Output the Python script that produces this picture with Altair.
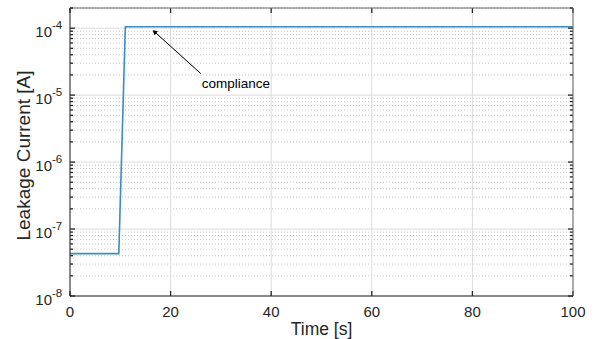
import altair as alt
import pandas as pd

# Leakage current trace (time in s, current in A)
time_s = [0, 9.7, 11.0, 100]
current_a = [4.3e-8, 4.3e-8, 1.05e-4, 1.05e-4]

x_ticks = [0, 20, 40, 60, 80, 100]
x_labels = ["0", "20", "40", "60", "80", "100"]
y_major = [1e-8, 1e-7, 1e-6, 1e-5, 1e-4]
y_major_exp = ["-8", "-7", "-6", "-5", "-4"]
y_minor = [m * 10.0 ** e for e in range(-8, -3) for m in range(2, 10)] + [2e-4]
y_minor = [v for v in y_minor if v <= 2e-4]

x_title = "Time [s]"
y_title = "Leakage Current [A]"
note_text = "compliance"
note_xy = (26.2, 1.45e-5)
arrow_tail = (26.0, 2.1e-5)
arrow_head = (16.9, 8.7e-5)

W, H = 503, 288
X_DOM = [0, 100]
Y_DOM = [1e-8, 2e-4]
AX = "#262626"
FONT = "Liberation Sans"

xs = alt.Scale(domain=X_DOM, nice=False, zero=False)
ys = alt.Scale(type="log", domain=Y_DOM, nice=False)

trace = pd.DataFrame({"t": time_s, "i": current_a})
major_y = pd.DataFrame({"v": y_major, "e": y_major_exp})
minor_y = pd.DataFrame({"v": y_minor})
xt = pd.DataFrame({"x": x_ticks, "lab": x_labels})

# grid: solid majors, dotted minors
grid_x = alt.Chart(xt).mark_rule(color="#dcdcdc", strokeWidth=1).encode(
    x=alt.X("x:Q", scale=xs, axis=None)
)
grid_y_major = alt.Chart(major_y).mark_rule(color="#dcdcdc", strokeWidth=1).encode(
    y=alt.Y("v:Q", scale=ys, axis=None)
)
grid_y_minor = alt.Chart(minor_y).mark_rule(
    color="#c8c8c8", strokeWidth=1, strokeDash=[1, 2]
).encode(y=alt.Y("v:Q", scale=ys, axis=None))

# the measured trace
line = alt.Chart(trace).mark_line(color="#3a8ec2", strokeWidth=1.6).encode(
    x=alt.X("t:Q", scale=xs), y=alt.Y("i:Q", scale=ys)
)

# inward ticks on all four sides
def yticks(df, length, left=True):
    x0 = 0 if left else W
    x1 = length if left else W - length
    return alt.Chart(df).mark_rule(color=AX, strokeWidth=1.3).encode(
        x=alt.value(x0), x2=alt.value(x1), y=alt.Y("v:Q", scale=ys)
    )

def xticks(length, bottom=True):
    y0 = H if bottom else 0
    y1 = H - length if bottom else length
    return alt.Chart(xt).mark_rule(color=AX, strokeWidth=1.3).encode(
        x=alt.X("x:Q", scale=xs), y=alt.value(y0), y2=alt.value(y1)
    )

ticks = [
    yticks(major_y, 5, True), yticks(major_y, 5, False),
    yticks(minor_y, 3, True), yticks(minor_y, 3, False),
    xticks(5, True), xticks(5, False),
]

# box: dark left/bottom axes, lighter top/right edges
one = pd.DataFrame({"k": [0]})
box = [
    alt.Chart(one).mark_rule(color="#6a6a6a", strokeWidth=1).encode(
        x=alt.value(0), x2=alt.value(W), y=alt.value(0)),
    alt.Chart(one).mark_rule(color="#6a6a6a", strokeWidth=1).encode(
        x=alt.value(W), y=alt.value(0), y2=alt.value(H)),
    alt.Chart(one).mark_rule(color=AX, strokeWidth=1).encode(
        x=alt.value(0), x2=alt.value(W), y=alt.value(H)),
    alt.Chart(one).mark_rule(color=AX, strokeWidth=1).encode(
        x=alt.value(0), y=alt.value(0), y2=alt.value(H)),
]

# x tick labels
x_lab = alt.Chart(xt).mark_text(
    align="center", baseline="alphabetic", fontSize=15, font=FONT, color=AX
).encode(x=alt.X("x:Q", scale=xs), y=alt.value(H + 21), text="lab:N")

# y tick labels as 10 with a raised exponent
lab_base = alt.Chart(major_y).mark_text(
    text="10", align="right", baseline="alphabetic", fontSize=15,
    font=FONT, color=AX, dy=9
).encode(x=alt.value(-18), y=alt.Y("v:Q", scale=ys))
lab_exp = alt.Chart(major_y).mark_text(
    align="left", baseline="alphabetic", fontSize=11.5,
    font=FONT, color=AX, dy=1
).encode(x=alt.value(-18), y=alt.Y("v:Q", scale=ys), text="e:N")

# axis titles
x_ttl = alt.Chart(one).mark_text(
    text=x_title, align="center", baseline="alphabetic", fontSize=17.5,
    font=FONT, color=AX
).encode(x=alt.value(W / 2), y=alt.value(H + 39))
y_ttl = alt.Chart(one).mark_text(
    text=y_title, align="center", baseline="alphabetic", fontSize=19,
    font=FONT, color=AX, angle=270
).encode(x=alt.value(-40), y=alt.value(147.5))

# annotation with arrow
arrow_df = pd.DataFrame({
    "x": [arrow_tail[0]], "y": [arrow_tail[1]],
    "x2": [arrow_head[0]], "y2": [arrow_head[1]],
})
arrow_line = alt.Chart(arrow_df).mark_rule(color="black", strokeWidth=1).encode(
    x=alt.X("x:Q", scale=xs), y=alt.Y("y:Q", scale=ys),
    x2="x2:Q", y2="y2:Q",
)
arrow_tip = alt.Chart(arrow_df).mark_point(
    shape="triangle", filled=True, color="black", size=28, angle=312, opacity=1
).encode(x=alt.X("x2:Q", scale=xs), y=alt.Y("y2:Q", scale=ys))
note = alt.Chart(pd.DataFrame({"x": [note_xy[0]], "y": [note_xy[1]], "t": [note_text]})).mark_text(
    align="left", baseline="middle", fontSize=13.5, font=FONT, color="black"
).encode(x=alt.X("x:Q", scale=xs), y=alt.Y("y:Q", scale=ys), text="t:N")

chart = alt.layer(
    grid_y_minor, grid_y_major, grid_x, line, *ticks, *box,
    x_lab, lab_base, lab_exp, x_ttl, y_ttl, arrow_line, arrow_tip, note,
).properties(
    width=W, height=H,
    autosize=alt.AutoSizeParams(type="none"),
    padding={"left": 70, "top": 8, "right": 24, "bottom": 43},
    background="white",
).configure_view(stroke=None)

chart.save("out.html", embed_options={"renderer": "svg", "actions": False})
